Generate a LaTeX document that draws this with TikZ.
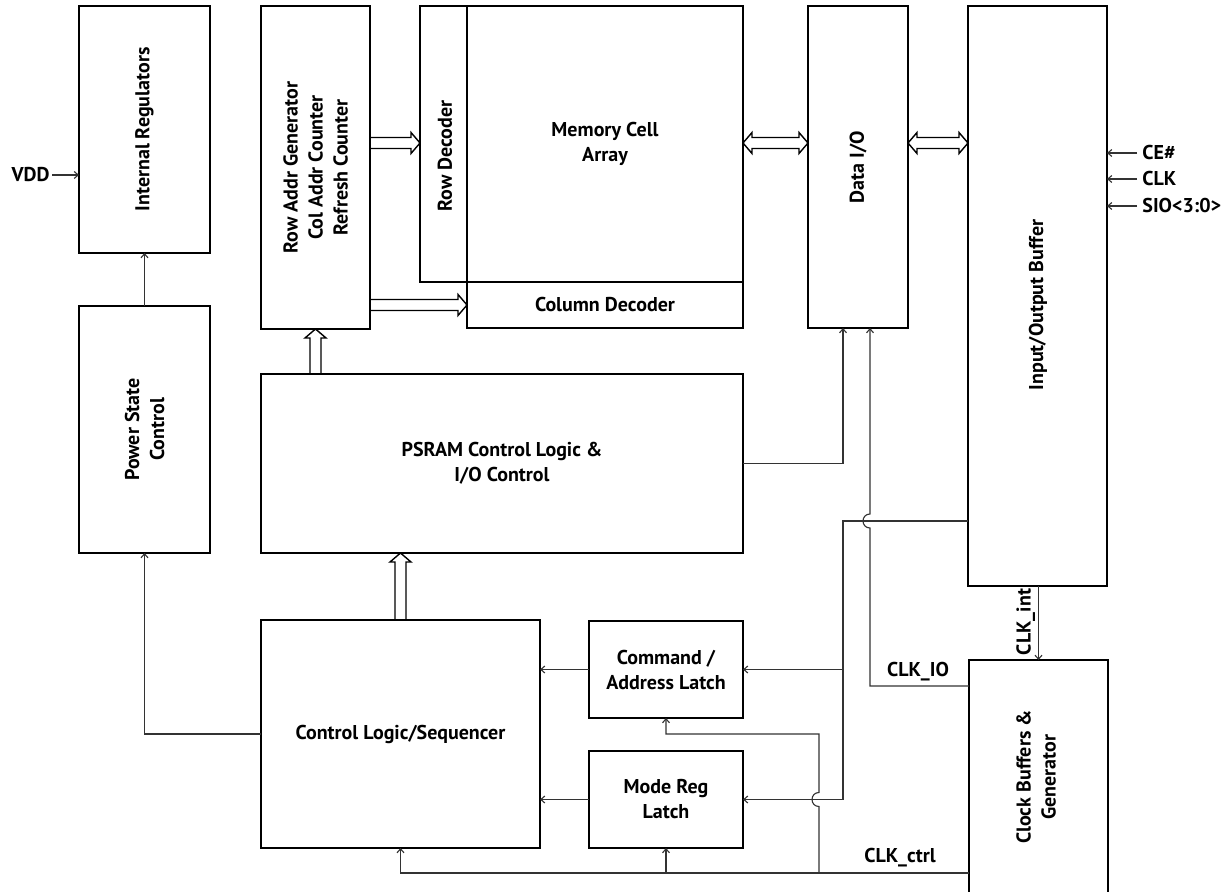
\documentclass[tikz,border=0pt]{standalone}
\usepackage{fontspec}
\setmainfont{PT Sans}
\usetikzlibrary{calc,arrows.meta}
\newcommand\fatR[2]{\draw[fat] ($(#1)+(0,-5.5)$) -- ($(#2)+(-9,-5.5)$) -- ($(#2)+(-9,-10.5)$) -- (#2) -- ($(#2)+(-9,10.5)$) -- ($(#2)+(-9,5.5)$) -- ($(#1)+(0,5.5)$);}
\newcommand\fatU[2]{\draw[fat] ($(#1)+(-5.5,0)$) -- ($(#2)+(-5.5,9)$) -- ($(#2)+(-10.5,9)$) -- (#2) -- ($(#2)+(10.5,9)$) -- ($(#2)+(5.5,9)$) -- ($(#1)+(5.5,0)$);}
\newcommand\fatLR[2]{\draw[fat] (#1) -- ($(#1)+(9,-10.5)$) -- ($(#1)+(9,-5.5)$) -- ($(#2)+(-9,-5.5)$) -- ($(#2)+(-9,-10.5)$) -- (#2) -- ($(#2)+(-9,10.5)$) -- ($(#2)+(-9,5.5)$) -- ($(#1)+(9,5.5)$) -- ($(#1)+(9,10.5)$) -- cycle;}
\begin{document}
\begin{tikzpicture}[x=0.5pt,y=-0.5pt,
  box/.style={draw=black, line width=1pt, inner sep=0pt, outer sep=0pt},
  txt/.style={font=\fontsize{10}{12.5}\selectfont\bfseries, align=center, inner sep=0pt},
  lbl/.style={font=\fontsize{10}{12}\selectfont\bfseries, inner sep=1pt},
  wire/.style={draw=black!80, line width=0.55pt},
  arr/.style={wire, -{Straight Barb[length=2pt,width=3.5pt]}},
  fat/.style={draw=black, line width=0.7pt, line join=miter}]
\useasboundingbox (0,0) rectangle (1231,892);
\fill[white] (0,0) rectangle (1231,892);
\clip (0,0) rectangle (1231,892);

% boxes
\node[box, minimum width=65.5pt, minimum height=123.5pt] (reg) at (144.5,129.5) {};
\node[box, minimum width=65.5pt, minimum height=123.5pt] (psc) at (144.5,429.5) {};
\node[box, minimum width=54.5pt, minimum height=161.5pt] (rowaddr) at (315.5,167.5) {};
\node[box, minimum width=23.5pt, minimum height=138pt] (rowdec) at (443.5,144) {};
\node[box, minimum width=138pt, minimum height=138pt] (mem) at (605,144) {};
\node[box, minimum width=138pt, minimum height=23pt] (coldec) at (605,305) {};
\node[box, minimum width=50pt, minimum height=161pt] (dataio) at (858,167) {};
\node[box, minimum width=69.5pt, minimum height=290pt] (iobuf) at (1037.5,296) {};
\node[box, minimum width=69.5pt, minimum height=117.5pt] (clkbuf) at (1038.5,777.5) {};
\node[box, minimum width=241pt, minimum height=89.5pt] (psram) at (502,463.5) {};
\node[box, minimum width=139.5pt, minimum height=114pt] (ctrl) at (400.5,734) {};
\node[box, minimum width=77pt, minimum height=48.5pt] (cmd) at (666,669.5) {};
\node[box, minimum width=77pt, minimum height=48.5pt] (mode) at (666,799.5) {};

% box texts
\node[txt, rotate=90] (tReg) at (reg.center) {Internal Regulators};
\node[txt, rotate=90] (tPsc) at (psc.center) {Power State\\Control};
\node[txt, rotate=90] (tRowaddr) at (rowaddr.center) {Row Addr Generator\\Col Addr Counter\\Refresh Counter};
\node[txt, rotate=90] (tRowdec) at (445,156) {Row Decoder};
\node[txt] (tMem) at (mem.center) {Memory Cell\\Array};
\node[txt] (tColdec) at (coldec.center) {Column Decoder};
\node[txt, rotate=90] (tData) at (dataio.center) {Data I/O};
\node[txt, rotate=90] (tIobuf) at (1038,305) {Input/Output Buffer};
\node[txt] (tPsram) at (psram.center) {PSRAM Control Logic \&\\I/O Control};
\node[txt] (tCtrl) at (ctrl.center) {Control Logic/Sequencer};
\node[txt] (tCmd) at (cmd.center) {Command /\\Address Latch};
\node[txt] (tMode) at (mode.center) {Mode Reg\\Latch};
\node[txt, rotate=90] (tClk) at (1036,777) {Clock Buffers \&\\Generator};

% signal labels
\node[lbl, anchor=east] (vdd) at (52,175) {VDD};
\node[lbl, anchor=west, inner sep=2.5pt] (ce) at (1137,153) {CE\#};
\node[lbl, anchor=west, inner sep=2.5pt] (clk) at (1137,179) {CLK};
\node[lbl, anchor=west, inner sep=2.5pt] (sio) at (1137,206) {SIO<3:0>};
\node[lbl, anchor=south] (lclkio) at (918,683) {CLK\_IO};
\node[lbl, anchor=south] (lclkctrl) at (900,869) {CLK\_ctrl};
\node[lbl, rotate=90, anchor=south, inner sep=0pt] (lclkint) at (1035.5,622) {CLK\_int};

% thin connectors
\draw[arr] (vdd.east) -- (reg.west |- vdd.east);
\draw[arr] (ce.west) -- (iobuf.east |- ce.west);
\draw[arr] (clk.west) -- (iobuf.east |- clk.west);
\draw[arr] (sio.west) -- (iobuf.east |- sio.west);
\draw[arr] (psc.north) -- (reg.south);
\draw[arr] (ctrl.west) -| (psc.south);
\draw[arr] (cmd.west) -- (ctrl.east |- cmd.west);
\draw[arr] (mode.west) -- (ctrl.east |- mode.west);
\draw[arr] (psram.east) -| ($(dataio.south)+(-15,0)$);

\coordinate (tap) at (968,521);
\coordinate (bus) at (843,521);
\draw[arr] (tap) -- (bus) |- (mode.east);
\draw[arr] (bus |- cmd.east) -- (cmd.east);

\coordinate (clkio) at (969,686);
\coordinate (hopA) at (870,521);
\draw[arr] (clkio) -- (clkio -| hopA) -- ($(hopA)+(0,7)$) .. controls ($(hopA)+(-9.3,7)$) and ($(hopA)+(-9.3,-7)$) .. ($(hopA)+(0,-7)$) -- (hopA |- dataio.south);

\draw[arr] (clkbuf.north |- iobuf.south) -- (clkbuf.north);

\coordinate (clkctrl) at (969,873);
\draw[arr] (clkctrl) -| (ctrl.south);
\draw[arr] (mode.south |- clkctrl) -- (mode.south);
\coordinate (hopB) at (819,799.5);
\draw[arr] (hopB |- clkctrl) -- ($(hopB)+(0,7)$) .. controls ($(hopB)+(-9.3,7)$) and ($(hopB)+(-9.3,-7)$) .. ($(hopB)+(0,-7)$) -- (hopB |- ctrl.west) -| (cmd.south);

% wide bus arrows
\coordinate (ra1) at (rowaddr.east |- 0,143);
\coordinate (rd1) at (rowdec.west |- 0,143);
\fatR{ra1}{rd1}
\coordinate (ra2) at (rowaddr.east |- coldec.west);
\fatR{ra2}{coldec.west}
\coordinate (m1) at (mem.east |- 0,143);
\coordinate (d1) at (dataio.west |- 0,143);
\fatLR{m1}{d1}
\coordinate (d2) at (dataio.east |- 0,143);
\coordinate (b1) at (iobuf.west |- 0,143);
\fatLR{d2}{b1}
\coordinate (p1) at (rowaddr.south |- psram.north);
\fatU{p1}{rowaddr.south}
\coordinate (c1) at (ctrl.north |- psram.south);
\fatU{ctrl.north}{c1}
\end{tikzpicture}
\end{document}
